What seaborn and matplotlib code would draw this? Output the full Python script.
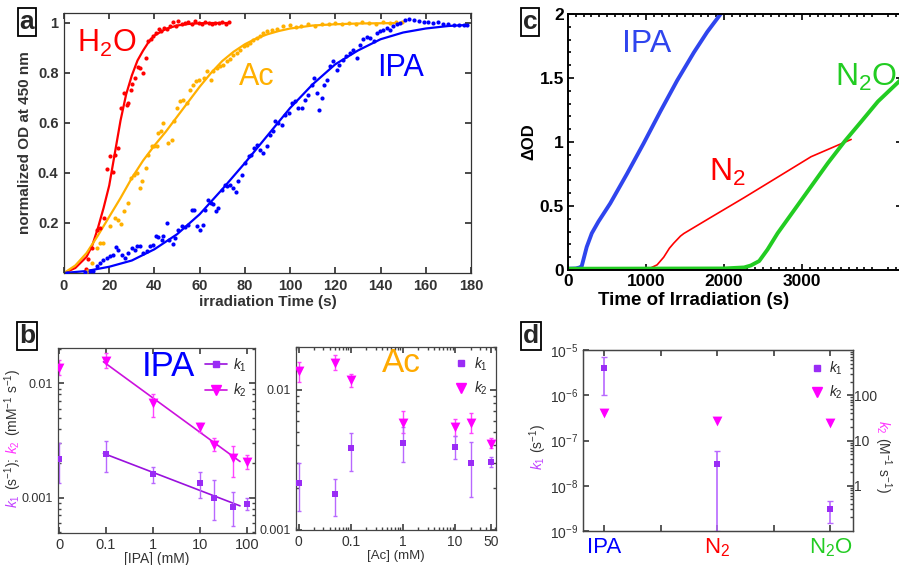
import numpy as np
import matplotlib
matplotlib.use('Agg')
import matplotlib.pyplot as plt
import seaborn as sns
from matplotlib.lines import Line2D
from matplotlib.ticker import FixedLocator, NullLocator, LogLocator, NullFormatter

sns.set_theme(style='ticks')
plt.rcParams['font.family'] = ['Liberation Sans', 'DejaVu Sans']
plt.rcParams['mathtext.fontset'] = 'custom'
plt.rcParams['mathtext.rm'] = 'Liberation Sans'
plt.rcParams['mathtext.it'] = 'Liberation Sans:italic'
plt.rcParams['mathtext.bf'] = 'Liberation Sans:bold'
plt.rcParams['xtick.direction'] = 'in'
plt.rcParams['ytick.direction'] = 'in'

W, H = 899, 565

# --- panel a: normalized OD at 450 nm ---
h2o_t = [9.7, 10.8, 12.5, 14.7, 15.9, 17.5, 19.2, 20.3, 21.8, 22.6, 24.0, 25.1, 26.5, 27.7, 28.4,
         29.6, 30.2, 31.5, 32.6, 33.4, 34.8, 36.3, 37.0, 38.4, 39.5, 40.5, 41.8, 43.0, 44.2, 45.5,
         46.8, 48.0, 49.5, 50.5, 52.0, 53.5, 55.0, 56.5, 58.0, 59.5, 61.0, 62.5, 64.0, 65.5, 67.0,
         68.5, 70.0, 71.5, 73.0]
h2o_v = [0.016, 0.056, 0.10, 0.173, 0.18, 0.22, 0.417, 0.467, 0.404, 0.473, 0.50, 0.66, 0.722, 0.673, 0.68,
         0.733, 0.757, 0.78, 0.826, 0.82, 0.80, 0.86, 0.927, 0.935, 0.95, 0.96, 0.975, 0.968, 0.98, 0.975,
         0.99, 1.005, 0.99, 1.01, 0.995, 1.0, 1.005, 0.998, 1.008, 1.0, 0.995, 1.003, 1.0, 0.997, 1.002,
         1.0, 1.004, 0.998, 1.003]
h2o_fit_t = [0, 5, 10, 12.5, 15, 17.5, 20, 22.5, 25, 27.5, 30, 32.5, 35, 37.5, 40, 45, 50, 55, 60, 65, 73]
h2o_fit_v = [0, 0.02, 0.065, 0.11, 0.18, 0.26, 0.35, 0.48, 0.61, 0.715, 0.79, 0.85, 0.89, 0.925, 0.95,
             0.976, 0.99, 0.996, 0.999, 1.0, 1.0]

ac_t = [10.3, 12.2, 14.5, 16.0, 17.4, 20.4, 22.6, 24.0, 25.0, 26.5, 28.5, 29.5, 31.0, 32.2, 33.6,
        34.5, 36.1, 37.3, 38.8, 39.8, 41.0, 41.7, 42.9, 44.0, 46.2, 47.6, 48.7, 49.9, 51.3, 52.8,
        54.3, 55.8, 57.2, 58.4, 59.9, 61.7, 63.1, 64.9, 66.1, 67.6, 69.0, 70.5, 71.9, 73.5, 74.9,
        76.4, 77.9, 79.4, 80.8, 82.3, 83.8, 85.3, 86.7, 88.2, 89.7, 91.9, 94.1, 97.0, 100.0, 102.5,
        105.0, 108.0, 111.0, 114.0, 117.0, 120.0, 123.0, 126.0, 129.0, 132.0, 135.0, 138.0, 141.0,
        144.0, 147.0, 149.4]
ac_v = [0.007, 0.04, 0.10, 0.12, 0.12, 0.187, 0.22, 0.213, 0.196, 0.247, 0.28, 0.38, 0.393, 0.40, 0.34,
        0.367, 0.42, 0.473, 0.507, 0.507, 0.507, 0.56, 0.567, 0.60, 0.52, 0.533, 0.607, 0.66, 0.687, 0.693,
        0.68, 0.733, 0.753, 0.767, 0.773, 0.78, 0.807, 0.773, 0.807, 0.82, 0.827, 0.833, 0.847, 0.857, 0.873,
        0.88, 0.893, 0.907, 0.913, 0.92, 0.933, 0.94, 0.947, 0.96, 0.967, 0.973, 0.976, 0.987, 0.993, 0.985,
        0.99, 0.995, 0.99, 0.998, 0.995, 1.0, 0.997, 1.002, 0.998, 1.003, 1.0, 0.998, 1.004,
        1.0, 1.003, 1.005]
ac_fit_t = [0, 5, 10, 15, 20, 25, 30, 35, 40, 45, 50, 55, 60, 65, 70, 75, 80, 85, 90, 95, 100, 110, 120, 130, 150]
ac_fit_v = [0, 0.03, 0.08, 0.15, 0.225, 0.30, 0.38, 0.45, 0.51, 0.565, 0.625, 0.685, 0.745, 0.80, 0.848,
            0.885, 0.915, 0.938, 0.955, 0.968, 0.978, 0.99, 0.995, 0.998, 1.0]

ipa_t = [1.2, 9.3, 11.5, 13.0, 14.5, 16.0, 17.4, 18.9, 20.4, 21.8, 23.0, 24.0, 25.5, 26.9, 28.5,
         29.9, 31.4, 32.4, 33.6, 35.1, 36.6, 38.1, 39.5, 40.7, 41.7, 43.2, 44.0, 45.4, 46.6, 48.1,
         49.1, 50.6, 52.1, 53.5, 55.0, 56.5, 57.5, 58.7, 60.2, 61.4, 62.4, 63.9, 64.9, 66.1, 67.3,
         68.3, 69.8, 71.2, 72.3, 73.5, 74.9, 76.1, 77.1, 78.6, 80.1, 81.6, 82.6, 84.1, 85.3, 86.7,
         88.2, 89.7, 91.2, 92.3, 93.4, 94.8, 96.3, 97.8, 99.3, 100.7, 102.2, 103.7, 105.2, 106.6, 108.1,
         109.6, 110.6, 111.8, 112.9, 114.0, 115.0, 116.2, 117.7, 118.9, 120.6, 121.8, 123.3, 124.8, 126.5,
         128.0, 129.8, 131.0, 132.4, 133.9, 135.4, 136.9, 138.3, 139.8, 141.3, 142.8, 144.2, 145.7, 147.2,
         148.7, 150.9, 152.4, 154.6, 156.8, 159.0, 161.2, 163.4, 165.6, 167.8, 170.0, 172.3, 174.5, 176.7,
         178.2]
ipa_v = [0.0, 0.003, 0.007, 0.007, 0.027, 0.04, 0.053, 0.06, 0.067, 0.073, 0.104, 0.093, 0.073, 0.06, 0.08,
         0.10, 0.093, 0.107, 0.107, 0.08, 0.087, 0.109, 0.113, 0.149, 0.144, 0.133, 0.149, 0.20, 0.133, 0.117,
         0.14, 0.171, 0.187, 0.183, 0.193, 0.253, 0.251, 0.187, 0.173, 0.193, 0.251, 0.293, 0.28, 0.277, 0.247,
         0.26, 0.333, 0.353, 0.347, 0.353, 0.34, 0.323, 0.367, 0.393, 0.44, 0.467, 0.473, 0.50, 0.513, 0.493,
         0.48, 0.507, 0.553, 0.567, 0.607, 0.60, 0.593, 0.633, 0.64, 0.68, 0.687, 0.66, 0.66, 0.693, 0.713,
         0.753, 0.78, 0.72, 0.653, 0.70, 0.753, 0.773, 0.827, 0.847, 0.813, 0.833, 0.853, 0.867, 0.88,
         0.893, 0.86, 0.913, 0.936, 0.944, 0.94, 0.927, 0.96, 0.967, 0.973, 0.98, 0.971, 0.989, 0.997,
         1.0, 1.011, 1.016, 1.013, 1.009, 1.005, 1.003, 1.0, 1.003, 0.997, 0.995, 0.993, 0.992, 0.992,
         0.991]
ipa_fit_t = [0, 10, 20, 30, 40, 50, 60, 70, 80, 90, 100, 110, 120, 130, 140, 150, 160, 170, 178]
ipa_fit_v = [0, 0.008, 0.025, 0.05, 0.095, 0.155, 0.235, 0.335, 0.44, 0.55, 0.66, 0.755, 0.835, 0.89,
             0.935, 0.962, 0.978, 0.988, 0.992]

# --- panel b: rate constants vs scavenger concentration ---
ZERO_POS = 0.01  # where "0 mM" sits on the log axis
ipa_conc = [0, 0.1, 1, 10, 20, 50, 100]
ipa_k1 = [0.00217, 0.00240, 0.00161, 0.00135, 0.00099, 0.00082, 0.00088]
ipa_k1_lo = [0.00135, 0.00167, 0.00135, 0.00100, 0.00064, 0.00056, 0.00078]
ipa_k1_hi = [0.00300, 0.00315, 0.00187, 0.00169, 0.00143, 0.00111, 0.00099]
ipa_k2 = [0.0137, 0.0158, 0.00668, 0.00418, 0.00289, 0.00221, 0.00206]
ipa_k2_lo = [0.0118, 0.0135, 0.0051, 0.00377, 0.00258, 0.00153, 0.00179]
ipa_k2_hi = [0.0160, 0.0183, 0.0081, 0.00453, 0.0033, 0.00283, 0.00236]
ipa_fit_x = [0.088, 71]
ipa_k1_fit = [0.00244, 0.000847]
ipa_k2_fit = [0.01545, 0.00207]

ac_conc = [0, 0.05, 0.1, 1, 10, 20, 50]
ac_k1 = [0.00217, 0.00179, 0.00381, 0.00415, 0.00391, 0.00298, 0.00306]
ac_k1_lo = [0.00137, 0.00126, 0.00264, 0.00306, 0.00318, 0.00171, 0.00279]
ac_k1_hi = [0.0030, 0.00232, 0.0049, 0.0054, 0.0047, 0.0042, 0.0033]
ac_k2 = [0.0135, 0.0155, 0.01165, 0.00579, 0.00537, 0.00579, 0.00407]
ac_k2_lo = [0.0113, 0.0137, 0.0104, 0.00487, 0.0047, 0.00487, 0.00381]
ac_k2_hi = [0.0157, 0.0175, 0.0130, 0.0070, 0.0062, 0.0068, 0.0045]

# --- panel c: delta OD vs irradiation time ---
c_ipa_t = [0, 100, 150, 176, 240, 305, 390, 541, 755, 970, 1185, 1399, 1614, 1785, 1957]
c_ipa_v = [0.01, 0.012, 0.02, 0.03, 0.18, 0.287, 0.378, 0.52, 0.75, 0.99, 1.24, 1.48, 1.70, 1.86, 2.0]
c_n2_t = [0, 1000, 1056, 1142, 1227, 1300, 1356, 1442, 1485, 1828, 2257, 2687, 3116, 3630]
c_n2_v = [0.01, 0.01, 0.015, 0.04, 0.10, 0.17, 0.21, 0.265, 0.285, 0.41, 0.565, 0.725, 0.885, 1.02]
c_n2o_t = [0, 2000, 2258, 2343, 2451, 2558, 2687, 2901, 3116, 3330, 3545, 3760, 3974, 4290]
c_n2o_v = [0.01, 0.012, 0.02, 0.035, 0.07, 0.16, 0.287, 0.469, 0.652, 0.834, 1.004, 1.16, 1.317, 1.50]
c_xticks = [0, 1000, 2000, 3000]
c_yticks = [0, 0.5, 1, 1.5, 2]

# --- panel d: rate constants per atmosphere ---
d_cats = ['IPA', 'N$_2$', 'N$_2$O']
d_cat_colors = ['#0000ff', '#ff0000', '#22cc22']
d_k1 = [4e-6, 3e-8, 3e-9]
d_k1_lo = [1e-6, 1e-9, 1.5e-9]
d_k1_hi = [7e-6, 6e-8, 4.5e-9]
d_k2 = [41, 27, 24.5]

K1C = '#9a2cf5'
K1E = '#b868ff'
K2C = '#ff00ff'
GRAY = '#444444'

fig = plt.figure(figsize=(W / 100, H / 100), dpi=100)


def box(x, y, w, h):
    return fig.add_axes([x / W, 1 - (y + h) / H, w / W, h / H])


def panel_letter(x, y, s):
    fig.text(x / W, 1 - y / H, s, fontsize=19, fontweight='bold', ha='center', va='center',
             bbox=dict(boxstyle='square,pad=0.08', fc='white', ec='black', lw=1.3))


def stacked_label(x, y, pieces, rotation, size, gap=2):
    # multi-coloured axis label built from consecutive rotated pieces
    r = fig.canvas.get_renderer()
    yy = 1 - y / H
    for txt, col in pieces:
        t = fig.text(x / W, yy, txt, color=col, fontsize=size, rotation=rotation,
                     ha='center', va='bottom' if rotation == 90 else 'top')
        h = (t.get_window_extent(r).height + gap) / fig.bbox.height
        yy = yy + h if rotation == 90 else yy - h


def thin_style(ax, col=GRAY):
    for s in ax.spines.values():
        s.set_color(col)
        s.set_linewidth(0.9)
    ax.tick_params(which='both', top=True, right=True, colors=col, labelcolor='#333333', labelsize=9)
    ax.tick_params(which='major', length=4)
    ax.tick_params(which='minor', length=2)


# ---------------- a ----------------
ax = box(64, 13, 407, 260)
for t, v, ft, fv, c in [(h2o_t, h2o_v, h2o_fit_t, h2o_fit_v, '#ff0000'),
                        (ac_t, ac_v, ac_fit_t, ac_fit_v, '#ffb000'),
                        (ipa_t, ipa_v, ipa_fit_t, ipa_fit_v, '#0000ff')]:
    sns.scatterplot(x=t, y=v, color=c, s=9, linewidth=0, ax=ax, zorder=3)
    sns.lineplot(x=ft, y=fv, color=c, linewidth=1.6, ax=ax, zorder=2)
ax.set_xlim(0, 180)
ax.set_ylim(0, 1.04)
ax.set_xticks(range(0, 181, 20))
ax.set_yticks([0.2, 0.4, 0.6, 0.8, 1.0])
ax.set_yticklabels(['0.2', '0.4', '0.6', '0.8', '1'])
for s in ax.spines.values():
    s.set_color('#333333')
    s.set_linewidth(0.9)
ax.tick_params(top=True, right=True, length=4, colors='#333333', labelsize=10.5, pad=4)
for lab in ax.get_xticklabels() + ax.get_yticklabels():
    lab.set_fontweight('bold')
ax.set_xlabel('irradiation Time (s)', fontsize=11, fontweight='bold', color='#333333', labelpad=2)
ax.set_ylabel('normalized OD at 450 nm', fontsize=11, fontweight='bold', color='#333333', labelpad=4)
fig.text(107 / W, 1 - 43 / H, 'H$_2$O', color='#ff0000', fontsize=22, ha='center', va='center')
fig.text(257 / W, 1 - 77 / H, 'Ac', color='#ffb000', fontsize=22, ha='center', va='center')
fig.text(401 / W, 1 - 68 / H, 'IPA', color='#0000ff', fontsize=22, ha='center', va='center')
panel_letter(27, 22, 'a')

# ---------------- b (IPA) ----------------
axb = box(58, 348, 197, 185)
xb = [ZERO_POS if c == 0 else c for c in ipa_conc]
axb.set_xscale('log')
axb.set_yscale('log')
sns.lineplot(x=ipa_fit_x, y=ipa_k2_fit, color='#cc11dd', linewidth=1.2, ax=axb)
sns.lineplot(x=ipa_fit_x, y=ipa_k1_fit, color='#9911dd', linewidth=1.2, ax=axb)
axb.errorbar(xb, ipa_k2, yerr=[np.subtract(ipa_k2, ipa_k2_lo), np.subtract(ipa_k2_hi, ipa_k2)],
             fmt='none', ecolor='#ff44ff', elinewidth=1, capsize=1.5)
axb.errorbar(xb, ipa_k1, yerr=[np.subtract(ipa_k1, ipa_k1_lo), np.subtract(ipa_k1_hi, ipa_k1)],
             fmt='none', ecolor=K1E, elinewidth=1, capsize=1.5)
sns.scatterplot(x=xb, y=ipa_k2, marker='v', color=K2C, s=50, linewidth=0, ax=axb, zorder=4)
sns.scatterplot(x=xb, y=ipa_k1, marker='s', color=K1C, s=25, linewidth=0, ax=axb, zorder=4)
axb.set_xlim(0.0095, 148)
axb.set_ylim(0.00049, 0.0204)
axb.set_xticks([ZERO_POS, 0.1, 1, 10, 100])
axb.set_xticklabels(['0', '0.1', '1', '10', '100'])
axb.set_yticks([0.001, 0.01])
axb.set_yticklabels(['0.001', '0.01'])
axb.yaxis.set_minor_formatter(NullFormatter())
axb.xaxis.set_minor_formatter(NullFormatter())
thin_style(axb)
axb.tick_params(axis='x', labelsize=10.5)
axb.set_xlabel('[IPA] (mM)', fontsize=10, color='#333333', labelpad=0)
hb = [Line2D([], [], marker='s', color='#9911dd', mfc=K1C, mec=K1C, ms=5, lw=1.2),
      Line2D([], [], marker='v', color='#cc11dd', mfc=K2C, mec=K2C, ms=7, lw=1.2)]
axb.legend(hb, ['$k_1$', '$k_2$'], loc='upper right', frameon=False, fontsize=10,
           handlelength=1.6, handletextpad=0.4, borderaxespad=0.2, labelspacing=0.6)
fig.text(168 / W, 1 - 366 / H, 'IPA', color='#0000ff', fontsize=25, ha='center', va='center')
stacked_label(13, 508, [('$k_1$', '#c040ff'), ('(s$^{-1}$);', '#333333'),
                        ('$k_2$', '#ff33ff'), ('(mM$^{-1}$ s$^{-1}$)', '#333333')], 90, 10, gap=4)
panel_letter(27, 336, 'b')

# ---------------- b (Ac) ----------------
axa = box(296, 347, 200, 183)
xa = [ZERO_POS if c == 0 else c for c in ac_conc]
axa.set_xscale('log')
axa.set_yscale('log')
axa.errorbar(xa, ac_k2, yerr=[np.subtract(ac_k2, ac_k2_lo), np.subtract(ac_k2_hi, ac_k2)],
             fmt='none', ecolor='#ff44ff', elinewidth=1, capsize=1.5)
axa.errorbar(xa, ac_k1, yerr=[np.subtract(ac_k1, ac_k1_lo), np.subtract(ac_k1_hi, ac_k1)],
             fmt='none', ecolor=K1E, elinewidth=1, capsize=1.5)
sns.scatterplot(x=xa, y=ac_k2, marker='v', color=K2C, s=50, linewidth=0, ax=axa, zorder=4)
sns.scatterplot(x=xa, y=ac_k1, marker='s', color=K1C, s=25, linewidth=0, ax=axa, zorder=4)
axa.set_xlim(0.0089, 61.5)
axa.set_ylim(0.001, 0.0201)
axa.set_xticks([ZERO_POS, 0.1, 1, 10, 50])
axa.set_xticklabels(['0', '0.1', '1', '10', '50'])
axa.set_yticks([0.001, 0.01])
axa.set_yticklabels(['0.001', '0.01'])
axa.yaxis.set_minor_formatter(NullFormatter())
axa.xaxis.set_minor_formatter(NullFormatter())
thin_style(axa)
axa.tick_params(axis='x', labelsize=10)
axa.set_xlabel('[Ac] (mM)', fontsize=9.5, color='#333333', labelpad=1)
ha = [Line2D([], [], marker='s', color=K1C, ms=5, lw=0),
      Line2D([], [], marker='v', color=K2C, ms=7, lw=0)]
axa.legend(ha, ['$k_1$', '$k_2$'], loc='upper right', frameon=False, fontsize=10,
           handlelength=1.0, handletextpad=0.4, borderaxespad=0.2, labelspacing=0.5)
fig.text(401 / W, 1 - 364 / H, 'Ac', color='#ffaa00', fontsize=24, ha='center', va='center')

# ---------------- d ----------------
axd = box(583, 350, 270, 181)
xd = np.arange(len(d_cats))
axd.set_yscale('log')
axd.errorbar(xd, d_k1, yerr=[np.subtract(d_k1, d_k1_lo), np.subtract(d_k1_hi, d_k1)],
             fmt='none', ecolor=K1E, elinewidth=1.2, capsize=2)
sns.scatterplot(x=xd, y=d_k1, marker='s', color=K1C, s=25, linewidth=0, ax=axd, zorder=4)
axd.set_xlim(-0.19, 2.2)
axd.set_ylim(1e-9, 1e-5)
axd.yaxis.set_major_locator(FixedLocator([1e-9, 1e-8, 1e-7, 1e-6, 1e-5]))
axd.yaxis.set_minor_locator(NullLocator())
axd.set_yticklabels(['10$^{-9}$', '10$^{-8}$', '10$^{-7}$', '10$^{-6}$', '10$^{-5}$'])
axd.set_xticks([0, 0.5, 1, 1.5, 2])
axd.set_xticklabels([d_cats[0], '', d_cats[1], '', d_cats[2]])
axd2 = axd.twinx()
axd2.set_yscale('log')
sns.scatterplot(x=xd, y=d_k2, marker='v', color=K2C, s=50, linewidth=0, ax=axd2, zorder=4)
axd2.set_ylim(0.1, 1000)
axd2.yaxis.set_major_locator(FixedLocator([1, 10, 100]))
axd2.set_yticklabels(['1', '10', '100'])
axd2.yaxis.set_minor_locator(LogLocator(subs=np.arange(2, 10)))
axd2.yaxis.set_minor_formatter(NullFormatter())
for a in (axd, axd2):
    for s in a.spines.values():
        s.set_color(GRAY)
        s.set_linewidth(0.9)
axd.tick_params(axis='y', which='both', colors=GRAY, labelcolor='#333333', labelsize=10, length=4)
axd.tick_params(axis='x', which='both', top=True, colors=GRAY, labelsize=16, length=4, pad=4)
for lab, col in zip([axd.get_xticklabels()[i] for i in (0, 2, 4)], d_cat_colors):
    lab.set_color(col)
axd2.tick_params(axis='y', which='both', colors=GRAY, labelcolor='#333333', labelsize=10, pad=1)
axd2.tick_params(axis='y', which='major', length=4)
axd2.tick_params(axis='y', which='minor', length=2)
hd = [Line2D([], [], marker='s', color=K1C, ms=5, lw=0),
      Line2D([], [], marker='v', color=K2C, ms=7, lw=0)]
axd2.legend(hd, ['$k_1$', '$k_2$'], loc='upper right', frameon=False, fontsize=10,
            handlelength=1.0, handletextpad=0.4, borderaxespad=0.3, labelspacing=0.5)
stacked_label(538, 470, [('$k_1$', '#c040ff'), ('(s$^{-1}$)', '#333333')], 90, 10, gap=3)
stacked_label(883, 420, [('$k_2$', '#ff33ff'), ('(M$^{-1}$ s$^{-1}$)', '#333333')], 270, 10, gap=3)
panel_letter(531, 336, 'd')

# ---------------- c (drawn last, on top) ----------------
axc = box(568, 14, 334, 256)
axc.set_zorder(5)
sns.lineplot(x=c_n2_t, y=c_n2_v, color='#ff0000', linewidth=1.2, ax=axc)
sns.lineplot(x=c_ipa_t, y=c_ipa_v, color='#2f45ee', linewidth=2.8, ax=axc)
sns.lineplot(x=c_n2o_t, y=c_n2o_v, color='#22cc22', linewidth=2.8, ax=axc)
axc.set_xlim(0, 4282)
axc.set_ylim(0, 2)
axc.xaxis.set_minor_locator(FixedLocator([m for m in range(100, 4300, 100) if m % 1000]))
axc.yaxis.set_minor_locator(FixedLocator([m / 10 for m in range(1, 20) if m % 5]))
axc.set_xticks(c_xticks)
axc.set_xticklabels([str(v) for v in c_xticks])
axc.set_yticks(c_yticks)
axc.set_yticklabels(['%g' % v for v in c_yticks])
for s in axc.spines.values():
    s.set_color('black')
    s.set_linewidth(1.4)
axc.tick_params(which='both', top=True, right=True, colors='black', labelsize=12.5, width=1.2)
axc.tick_params(which='major', length=4, pad=3)
axc.tick_params(which='minor', length=2)
for lab in axc.get_xticklabels() + axc.get_yticklabels():
    lab.set_fontweight('bold')
axc.set_xlabel('Time of Irradiation (s)', fontsize=13.5, fontweight='bold', color='black', labelpad=2)
axc.xaxis.label.set_x((694 - 568) / 334)
axc.set_ylabel('ΔOD', fontsize=12, fontweight='bold', color='black', labelpad=2)
axc.text(647 / W, 1 - 44 / H, 'IPA', transform=fig.transFigure, color='#2f45ee', fontsize=23,
         ha='center', va='center')
axc.text(727 / W, 1 - 172 / H, 'N$_2$', transform=fig.transFigure, color='#ff0000', fontsize=23,
         ha='center', va='center')
axc.text(866 / W, 1 - 77 / H, 'N$_2$O', transform=fig.transFigure, color='#22cc22', fontsize=23,
         ha='center', va='center')
panel_letter(530, 22, 'c')

fig.savefig('out.png', dpi=100)
